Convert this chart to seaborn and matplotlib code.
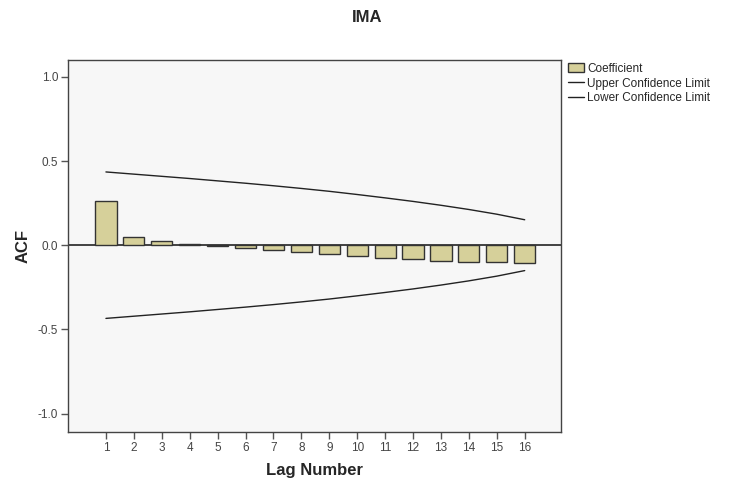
import matplotlib
matplotlib.use("Agg")
import matplotlib.pyplot as plt
from matplotlib.patches import Patch
from matplotlib.lines import Line2D
import seaborn as sns
import pandas as pd

# ACF values
lags = [1, 2, 3, 4, 5, 6, 7, 8, 9, 10, 11, 12, 13, 14, 15, 16]
coefficient = [0.263, 0.046, 0.026, 0.008, -0.005, -0.018, -0.028, -0.038,
               -0.052, -0.064, -0.074, -0.082, -0.092, -0.098, -0.102, -0.104]
upper_limit = [0.435, 0.422, 0.409, 0.396, 0.382, 0.368, 0.353, 0.337,
               0.320, 0.301, 0.281, 0.260, 0.237, 0.212, 0.184, 0.151]
lower_limit = [-0.435, -0.422, -0.409, -0.396, -0.382, -0.368, -0.353, -0.337,
               -0.320, -0.301, -0.281, -0.260, -0.237, -0.212, -0.184, -0.151]
y_ticks = [-1.0, -0.5, 0.0, 0.5, 1.0]

df = pd.DataFrame({"lag": lags, "acf": coefficient,
                   "upper": upper_limit, "lower": lower_limit})

sns.set_style("white")
plt.rcParams["font.family"] = ["Liberation Sans", "DejaVu Sans"]

bar_color = "#d6d09a"
edge = "#333333"

fig = plt.figure(figsize=(7.34, 4.82), dpi=100)
ax = fig.add_axes([0.0926, 0.1037, 0.6717, 0.7718])
ax.set_facecolor("#f7f7f7")

sns.barplot(data=df, x="lag", y="acf", native_scale=True, width=0.76,
            color=bar_color, edgecolor=edge, linewidth=1, saturation=1, ax=ax)
sns.lineplot(data=df, x="lag", y="upper", color="#222222", linewidth=1.0, ax=ax)
sns.lineplot(data=df, x="lag", y="lower", color="#222222", linewidth=1.0, ax=ax)
ax.axhline(0, color="#111111", linewidth=1.1, zorder=0.5)

ax.set_xlim(-0.36, 17.3)
ax.set_ylim(-1.11, 1.10)
ax.set_xticks(lags)
ax.set_xticklabels([str(l) for l in lags])
ax.set_yticks(y_ticks)
ax.set_yticklabels([f"{t:.1f}" for t in y_ticks])
ax.tick_params(axis="both", direction="out", length=5, width=1, color="#555555",
               labelsize=8.5, labelcolor="#444444", bottom=True, left=True, pad=2)
for s in ax.spines.values():
    s.set_color("#444444")
    s.set_linewidth(1)

ax.set_xlabel("Lag Number", fontsize=12, fontweight="bold", labelpad=7)
ax.set_ylabel("ACF", fontsize=12, fontweight="bold", labelpad=5)
fig.suptitle("IMA", fontsize=12, fontweight="bold", x=0.5, y=0.98)

handles = [Patch(facecolor=bar_color, edgecolor=edge, linewidth=1),
           Line2D([0], [0], color="#222222", linewidth=1.0),
           Line2D([0], [0], color="#222222", linewidth=1.0)]
labels = ["Coefficient", "Upper Confidence Limit", "Lower Confidence Limit"]
fig.legend(handles, labels, loc="upper left", bbox_to_anchor=(0.768, 0.88),
           frameon=False, fontsize=8.5, handlelength=1.3, handleheight=0.9,
           handletextpad=0.3, labelspacing=0.25, borderaxespad=0)

fig.savefig("out.png", dpi=100)
